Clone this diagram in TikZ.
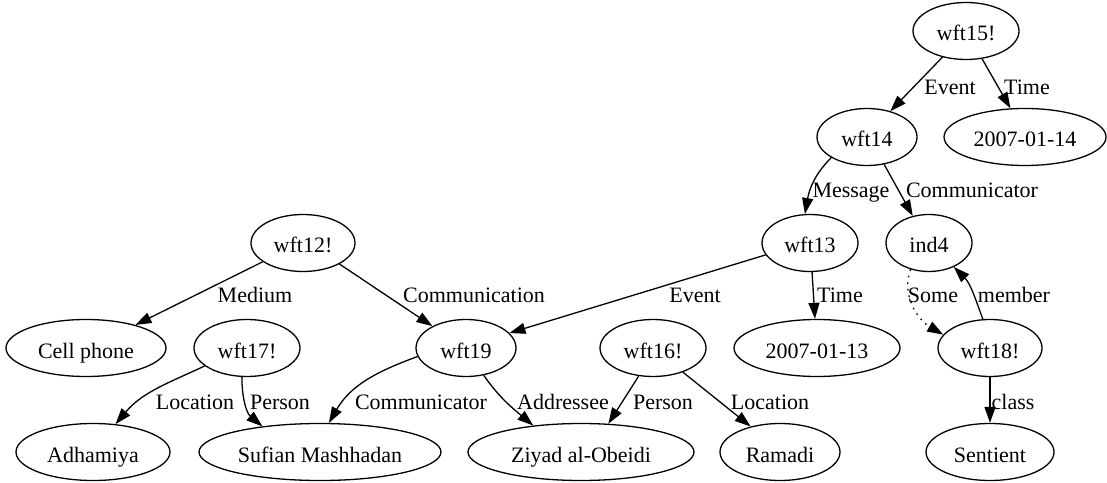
\documentclass[tikz,border=0pt]{standalone}
\usepackage{fontspec}
\setmainfont{Liberation Serif}
\usetikzlibrary{arrows.meta,shapes.geometric}

\begin{document}
\begin{tikzpicture}[x=1pt,y=1pt,
  every node/.style={font=\fontsize{22}{26}\selectfont},
  vert/.style={ellipse, draw, line width=1.3pt, inner sep=0pt,
    minimum height=57pt, text height=20pt, text depth=0pt},
  lbl/.style={anchor=base, inner sep=0pt},
  edge/.style={line width=1.3pt, -{Triangle[length=16pt,width=11pt]}},
  dotedge/.style={edge, dash pattern=on 1.6pt off 5pt}]
\useasboundingbox (0,0) rectangle (1107,482);

% propositions and terms
\node[vert, minimum width=106pt] (wft15) at (966,451) {wft15!};
\node[vert, minimum width=100pt] (wft14) at (867,345) {wft14};
\node[vert, minimum width=162pt] (d14)   at (1025,345) {2007-01-14};
\node[vert, minimum width=96pt]  (wft13) at (810,239) {wft13};
\node[vert, minimum width=86pt]  (ind4)  at (929,239) {ind4};
\node[vert, minimum width=104pt] (wft12) at (303,239) {wft12!};
\node[vert, minimum width=160pt] (cell)  at (86,134) {Cell phone};
\node[vert, minimum width=106pt] (wft17) at (247,134) {wft17!};
\node[vert, minimum width=100pt] (wft19) at (466,134) {wft19};
\node[vert, minimum width=106pt] (wft16) at (653,134) {wft16!};
\node[vert, minimum width=166pt] (d13)   at (817,134) {2007-01-13};
\node[vert, minimum width=104pt] (wft18) at (990,134) {wft18!};
\node[vert, minimum width=154pt] (adh)    at (93,30)  {Adhamiya};
\node[vert, minimum width=242pt] (sufian) at (320,30) {Sufian Mashhadan};
\node[vert, minimum width=226pt] (ziyad)  at (581,30) {Ziyad al-Obeidi};
\node[vert, minimum width=120pt] (ramadi) at (780,30) {Ramadi};
\node[vert, minimum width=128pt] (sent)   at (990,30) {Sentient};

% relations
\draw[edge] (wft15.228) -- (wft14.48);
\draw[edge] (wft15.300) -- (d14.117);
\draw[edge] (wft14.210) to[out=225,in=80] (wft13.100);
\draw[edge] (wft14.302) -- (ind4.121);
\draw[edge] (wft13.195) -- (wft19.19);
\draw[edge] (wft13.274) -- (d13.94);
\draw[dotedge] (ind4.235) to[out=250,in=150] (wft18.164);
\draw[edge] (wft18.104) to[out=110,in=-45] (ind4.316);
\draw[edge] (wft18.270) -- (sent.90);
\draw[edge] (wft12.205) -- (cell.25);
\draw[edge] (wft12.330) -- (wft19.147);
\draw[edge] (wft17.203) to[out=205,in=50] (adh.51);
\draw[edge] (wft17.260) to[out=270,in=140] (sufian.156);
\draw[edge] (wft19.190) to[out=200,in=60] (sufian.73);
\draw[edge] (wft19.303) to[out=305,in=140] (ziyad.151);
\draw[edge] (wft16.243) -- (ziyad.46);
\draw[edge] (wft16.321) -- (ramadi.139);

% relation labels
\node[lbl] (l-event1)  at (950,387)  {Event};
\node[lbl] (l-time1)   at (1027,387) {Time};
\node[lbl] (l-message) at (851,284)  {Message};
\node[lbl] (l-comm1)   at (972,284)  {Communicator};
\node[lbl] (l-medium)  at (255,179)  {Medium};
\node[lbl] (l-commn)   at (474,179)  {Communication};
\node[lbl] (l-event2)  at (695,179)  {Event};
\node[lbl] (l-time2)   at (840,179)  {Time};
\node[lbl] (l-some)    at (933,179)  {Some};
\node[lbl] (l-member)  at (1014,179) {member};
\node[lbl] (l-loc1)    at (195,73)   {Location};
\node[lbl] (l-person1) at (280,73)   {Person};
\node[lbl] (l-comm2)   at (421,73)   {Communicator};
\node[lbl] (l-addr)    at (563,73)   {Addressee};
\node[lbl] (l-person2) at (663,73)   {Person};
\node[lbl] (l-loc2)    at (770,73)   {Location};
\node[lbl] (l-class)   at (1013,73)  {class};
\end{tikzpicture}
\end{document}
